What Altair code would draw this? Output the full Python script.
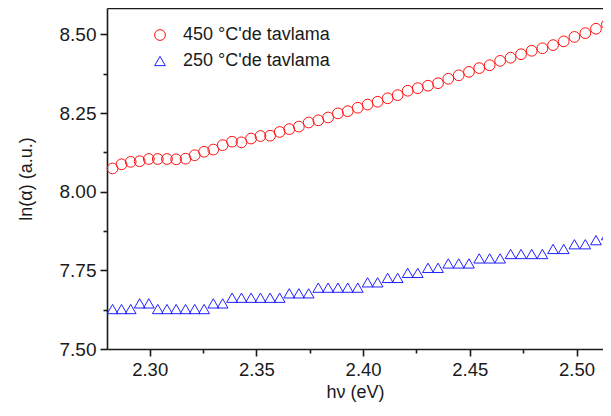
import altair as alt
import pandas as pd

# photon energy (eV) of each sample
energy = [2.2826, 2.2868, 2.2911, 2.2953, 2.2996, 2.3038, 2.3081, 2.3124, 2.3168, 2.3211,
          2.3255, 2.3298, 2.3342, 2.3386, 2.3430, 2.3475, 2.3519, 2.3564, 2.3609, 2.3654,
          2.3699, 2.3745, 2.3790, 2.3836, 2.3882, 2.3928, 2.3975, 2.4021, 2.4068, 2.4115,
          2.4162, 2.4209, 2.4256, 2.4304, 2.4351, 2.4399, 2.4448, 2.4496, 2.4544, 2.4593,
          2.4642, 2.4691, 2.4740, 2.4790, 2.4840, 2.4890, 2.4940, 2.4990, 2.5041, 2.5091,
          2.5142]

# ln(alpha) for 450 C anneal
ln_alpha_450 = [8.074, 8.087, 8.095, 8.097, 8.104, 8.104, 8.104, 8.103, 8.105, 8.116,
                8.127, 8.134, 8.148, 8.159, 8.157, 8.169, 8.177, 8.178, 8.190, 8.199,
                8.207, 8.220, 8.227, 8.236, 8.249, 8.256, 8.267, 8.277, 8.286, 8.297,
                8.307, 8.321, 8.329, 8.337, 8.345, 8.359, 8.370, 8.381, 8.393, 8.402,
                8.416, 8.426, 8.437, 8.448, 8.456, 8.466, 8.478, 8.492, 8.504, 8.518,
                8.532]

# ln(alpha) for 250 C anneal
ln_alpha_250 = [7.627, 7.627, 7.627, 7.645, 7.645, 7.627, 7.627, 7.627, 7.627, 7.627,
                7.627, 7.645, 7.645, 7.663, 7.663, 7.663, 7.663, 7.663, 7.663, 7.677,
                7.677, 7.677, 7.695, 7.695, 7.695, 7.695, 7.695, 7.712, 7.712, 7.726,
                7.726, 7.742, 7.742, 7.758, 7.758, 7.772, 7.772, 7.772, 7.788, 7.788,
                7.788, 7.802, 7.802, 7.802, 7.802, 7.818, 7.818, 7.833, 7.833, 7.846,
                7.862]

series_names = ["\u00a0450 \u00b0C'de tavlama", "250 \u00b0C'de tavlama"]

x_major = [2.30, 2.35, 2.40, 2.45, 2.50]
x_minor = [2.325, 2.375, 2.425, 2.475]
y_major = [7.50, 7.75, 8.00, 8.25, 8.50]
y_minor = [7.625, 7.875, 8.125, 8.375]

x_domain = [2.28, 2.5124]
y_domain = [7.50, 8.584]

rows = []
for e, v in zip(energy, ln_alpha_450):
    rows.append({"E": e, "v": v, "series": series_names[0]})
for e, v in zip(energy, ln_alpha_250):
    rows.append({"E": e, "v": v, "series": series_names[1]})
df = pd.DataFrame(rows)

FONT = "Liberation Sans"
INK = "#1a1a1a"

xs = alt.Scale(domain=x_domain, nice=False, zero=False)
ys = alt.Scale(domain=y_domain, nice=False, zero=False)

legend = alt.Legend(
    title=None, orient="none", legendX=44, legendY=18, padding=0,
    labelFont=FONT, labelFontSize=18, labelColor=INK, labelOffset=14,
    rowPadding=8, symbolSize=115, symbolStrokeWidth=1, symbolType="circle",
)

main = alt.Chart(df).mark_point(filled=False, size=115, strokeWidth=1, opacity=1).encode(
    x=alt.X("E:Q", scale=xs, axis=alt.Axis(
        orient="bottom", values=x_major, format=".2f", tickSize=7, labelPadding=4,
        title="h\u03bd (eV)", titlePadding=5)),
    y=alt.Y("v:Q", scale=ys, axis=alt.Axis(
        orient="left", values=y_major, format=".2f", tickSize=7, labelPadding=4,
        labelFontSize=19, title="ln(\u03b1) (a.u.)", titlePadding=24)),
    color=alt.Color("series:N", scale=alt.Scale(domain=series_names, range=["#ff1010", "#2020ff"]),
                    legend=legend),
    shape=alt.Shape("series:N", scale=alt.Scale(domain=series_names, range=["circle", "triangle-up"]),
                    legend=legend),
)

minor = alt.Chart(df).mark_point(opacity=0).encode(
    x=alt.X("E:Q", scale=xs, axis=alt.Axis(
        orient="bottom", values=x_minor, tickSize=4, labels=False, domain=False, title=None)),
    y=alt.Y("v:Q", scale=ys, axis=alt.Axis(
        orient="left", values=y_minor, tickSize=4, labels=False, domain=False, title=None)),
)

top = alt.Chart(df).mark_point(opacity=0).encode(
    x=alt.X("E:Q", scale=xs, axis=alt.Axis(
        orient="top", ticks=False, labels=False, domain=True, title=None)),
    y=alt.Y("v:Q", scale=ys, axis=None),
)

chart = alt.layer(main, minor, top).resolve_axis(
    x="independent", y="independent"
).properties(
    width=496, height=341,
    autosize=alt.AutoSizeParams(type="none"),
    padding={"left": 99, "top": 0, "right": 0, "bottom": 53},
).configure_view(stroke=None).configure_axis(
    grid=False, labelFont=FONT, labelFontSize=18.5, labelColor=INK,
    titleFont=FONT, titleFontSize=18, titleColor=INK, titleFontWeight="normal",
    domainColor=INK, domainWidth=1.6, tickColor=INK, tickWidth=1.6,
)

chart.save("out.html", embed_options={"renderer": "svg", "actions": False})
